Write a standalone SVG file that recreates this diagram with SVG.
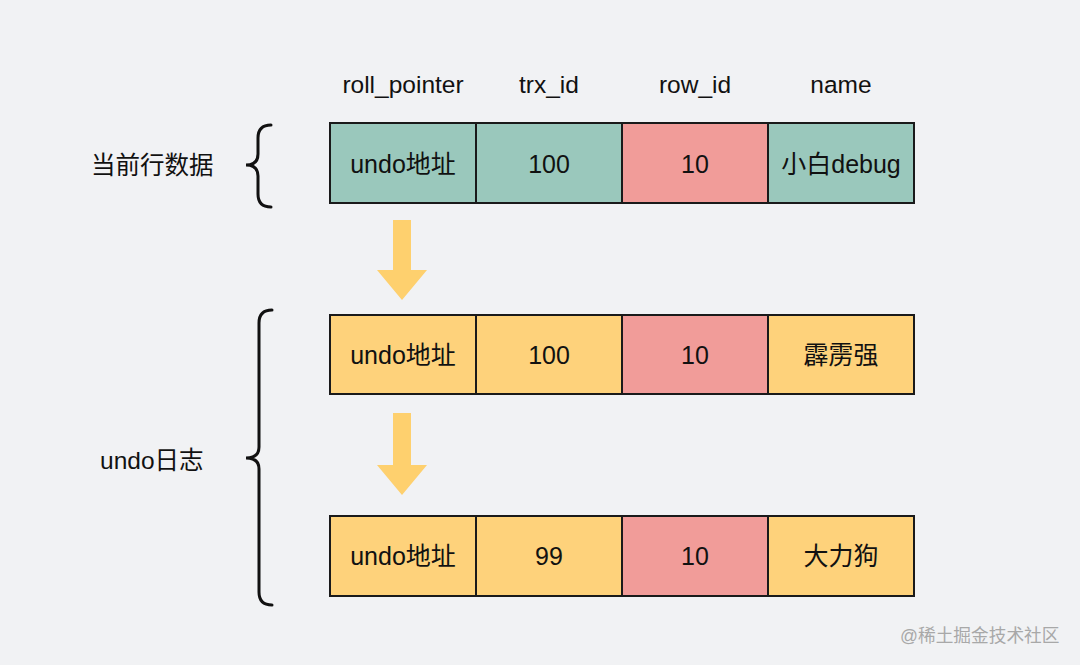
<svg xmlns="http://www.w3.org/2000/svg" width="1080" height="665" viewBox="0 0 1080 665">
<style>
text{font-family:"Liberation Sans","Noto Sans CJK SC",sans-serif;fill:#111;}
.h{font-size:24.5px;text-anchor:middle;}
.c{font-size:25px;text-anchor:middle;dominant-baseline:central;}
.l{font-size:24.5px;dominant-baseline:central;}
.cell{stroke:#1a1a1a;stroke-width:2;}
.g{fill:#9ac8bc;}
.y{fill:#fed27b;}
.p{fill:#f19c99;}
.brace{fill:none;stroke:#111;stroke-width:3;stroke-linecap:round;}
.arr{fill:#fed06e;}
</style>
<rect width="1080" height="665" fill="#f1f2f4"/>
<g id="headers">
<text class="h" x="403" y="93">roll_pointer</text>
<text class="h" x="549" y="93">trx_id</text>
<text class="h" x="695" y="93">row_id</text>
<text class="h" x="841" y="93">name</text>
</g>
<g id="label-current"><text class="l" x="91" y="165">当前行数据</text></g>
<g id="label-undo"><text class="l" x="100" y="460">undo日志</text></g>
<g id="brace1"><path class="brace" d="M271,125 Q258,125 258,138 L258,154 Q258,165 246,165 Q258,165 258,176 L258,194 Q258,207 271,207"/></g>
<g id="brace2"><path class="brace" d="M272,310 Q259,310 259,323 L259,447 Q259,458 246,458 Q259,458 259,469 L259,592 Q259,605 272,605"/></g>
<g id="row1">
<rect class="cell g" x="330" y="123" width="146" height="80"/>
<rect class="cell g" x="476" y="123" width="146" height="80"/>
<rect class="cell p" x="622" y="123" width="146" height="80"/>
<rect class="cell g" x="768" y="123" width="146" height="80"/>
<text class="c" x="403" y="164">undo地址</text>
<text class="c" x="549" y="164">100</text>
<text class="c" x="695" y="164">10</text>
<text class="c" x="841" y="164">小白debug</text>
</g>
<g id="row2">
<rect class="cell y" x="330" y="315" width="146" height="79"/>
<rect class="cell y" x="476" y="315" width="146" height="79"/>
<rect class="cell p" x="622" y="315" width="146" height="79"/>
<rect class="cell y" x="768" y="315" width="146" height="79"/>
<text class="c" x="403" y="355">undo地址</text>
<text class="c" x="549" y="355">100</text>
<text class="c" x="695" y="355">10</text>
<text class="c" x="841" y="355">霹雳强</text>
</g>
<g id="row3">
<rect class="cell y" x="330" y="516" width="146" height="80"/>
<rect class="cell y" x="476" y="516" width="146" height="80"/>
<rect class="cell p" x="622" y="516" width="146" height="80"/>
<rect class="cell y" x="768" y="516" width="146" height="80"/>
<text class="c" x="403" y="556">undo地址</text>
<text class="c" x="549" y="556">99</text>
<text class="c" x="695" y="556">10</text>
<text class="c" x="841" y="556">大力狗</text>
</g>
<g id="connectors">
<polygon class="arr" points="393,220 411,220 411,270 427,270 402,300 377,270 393,270"/>
<polygon class="arr" points="393,413 411,413 411,465 427,465 402,495 377,465 393,465"/>
</g>
<text x="900" y="642" style="font-size:17.7px;fill:#a8a8a8;">@稀土掘金技术社区</text>
</svg>
